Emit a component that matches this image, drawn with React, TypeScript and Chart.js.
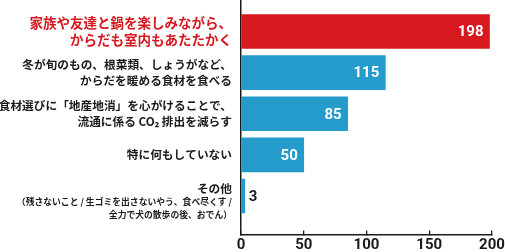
import { useEffect, useRef } from 'react';
import { Chart, registerables } from 'chart.js';

Chart.register(...registerables);

// ---- data ----
const categories: string[][] = [
  ['家族や友達と鍋を楽しみながら、', 'からだも室内もあたたかく'],
  ['冬が旬のもの、根菜類、しょうがなど、', 'からだを暖める食材を食べる'],
  ['食材選びに「地産地消」を心がけることで、', '流通に係る CO₂ 排出を減らす'],
  ['特に何もしていない'],
  ['その他'],
];
const otherNotes: string[] = [
  '（残さないこと / 生ゴミを出さないやう、食べ尽くす /',
  '全力で犬の散歩の後、おでん）',
];
const values: number[] = [198, 115, 85, 50, 3];
const xTickValues: number[] = [0, 50, 100, 150, 200];
const highlightIndex = 0;
const notesIndex = 4;

// ---- styles ----
const RED = '#d7181f';
const BLUE = '#259bcb';
const INK = '#1a1a1a';
const JP = '"Noto Sans CJK JP", "Noto Sans", sans-serif';
const NUM = 'Roboto, "DejaVu Sans", sans-serif';

const valueLabelPlugin = {
  id: 'valueLabels',
  afterDatasetsDraw(chart: any) {
    const ctx = chart.ctx;
    const meta = chart.getDatasetMeta(0);
    meta.data.forEach((bar: any, i: number) => {
      const v = values[i];
      const { x, y } = bar.getProps(['x', 'y'], true);
      ctx.save();
      ctx.font = `bold 15px ${NUM}`;
      ctx.textBaseline = 'middle';
      if (v >= 20) {
        ctx.fillStyle = '#ffffff';
        ctx.textAlign = 'right';
        ctx.fillText(String(v), x - 6, y + 1);
      } else {
        ctx.fillStyle = INK;
        ctx.textAlign = 'left';
        ctx.fillText(String(v), x + 4, y + 1);
      }
      ctx.restore();
    });
  },
};

const otherLabelPlugin = {
  id: 'otherLabel',
  afterDraw(chart: any) {
    const ctx = chart.ctx;
    const yScale = chart.scales.y;
    const xRight = chart.chartArea.left - 9;
    const yc = yScale.getPixelForValue(notesIndex);
    ctx.save();
    ctx.textAlign = 'right';
    ctx.textBaseline = 'middle';
    ctx.fillStyle = INK;
    ctx.font = `bold 11.7px ${JP}`;
    ctx.fillText(categories[notesIndex].join(''), xRight, yc - 7.7);
    ctx.font = `bold 8.8px ${JP}`;
    otherNotes.forEach((line, k) => {
      ctx.fillText(line, xRight, yc + 5.8 + k * 12.6);
    });
    ctx.restore();
  },
};

export default function App() {
  const canvasRef = useRef<HTMLCanvasElement | null>(null);

  useEffect(() => {
    document.body.style.margin = '0';
    const canvas = canvasRef.current;
    if (!canvas) return;
    const chart = new Chart(canvas, {
      type: 'bar',
      data: {
        datasets: [
          {
            data: values.map((v, i) => ({ x: v, y: i })) as any,
            backgroundColor: values.map((_, i) => (i === highlightIndex ? RED : BLUE)),
            borderWidth: 0,
            barThickness: 34,
          },
        ],
      },
      options: {
        indexAxis: 'y',
        animation: false,
        responsive: false,
        layout: { padding: { left: 0, right: 13, top: 0, bottom: 0 } },
        plugins: { legend: { display: false }, tooltip: { enabled: false } },
        scales: {
          x: {
            type: 'linear',
            position: 'bottom',
            min: 0,
            max: 200,
            offset: false,
            afterBuildTicks: (s: any) => {
              s.ticks = xTickValues.map((v) => ({ value: v }));
            },
            grid: {
              drawOnChartArea: false,
              drawTicks: true,
              tickLength: -4,
              color: INK,
              lineWidth: 1.3,
              offset: false,
            },
            border: { display: true, color: INK, width: 1.5 },
            ticks: {
              padding: 6,
              color: INK,
              maxRotation: 0,
              font: { family: NUM, size: 15, weight: 'bold' },
            },
            afterFit: (s: any) => {
              s.height = 17.5;
              s.paddingLeft = 0;
              s.paddingRight = 0;
            },
          },
          y: {
            type: 'linear',
            reverse: true,
            bounds: 'data',
            offset: false,
            min: -0.766,
            max: 4.936,
            afterBuildTicks: (s: any) => {
              s.ticks = categories.map((_, i) => ({ value: i }));
            },
            grid: { display: false, drawTicks: false, offset: false },
            border: { display: true, color: INK, width: 1.5 },
            ticks: {
              padding: 9,
              autoSkip: false,
              callback: (v: any) => (v === notesIndex ? '' : categories[v] ?? ''),
              color: (c: any) => (c.index === highlightIndex ? RED : INK),
              font: (c: any) =>
                c.index === highlightIndex
                  ? { family: JP, size: 13.5, weight: 'bold', lineHeight: 1.3 }
                  : { family: JP, size: 11.7, weight: 'bold', lineHeight: 1.4 },
            },
            afterFit: (s: any) => {
              s.width = 241;
              s.paddingTop = 0;
              s.paddingBottom = 0;
            },
          },
        },
      } as any,
      plugins: [valueLabelPlugin, otherLabelPlugin],
    });
    return () => chart.destroy();
  }, []);

  return (
    <div style={{ width: 505, height: 252 }}>
      <canvas ref={canvasRef} width={505} height={252} style={{ display: 'block' }} />
    </div>
  );
}
